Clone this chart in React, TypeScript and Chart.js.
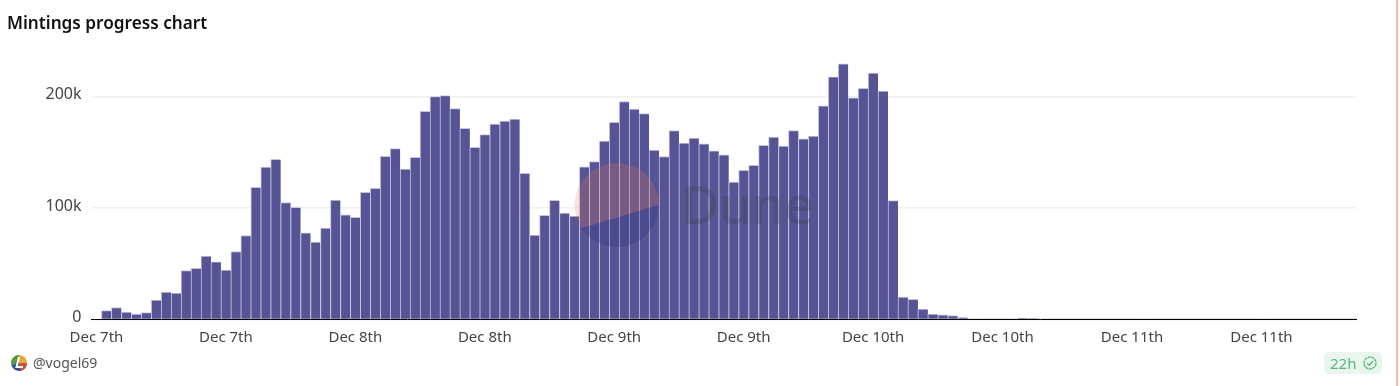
import React, { useEffect, useRef } from "react";
import { Chart, registerables } from "chart.js";

Chart.register(...registerables);

const FONT = '"Noto Sans", sans-serif';
const titleText = "Mintings progress chart";
const authorText = "@vogel69";
const ageText = "22h";
const seriesName = "Mintings";

const tickLabels = ["Dec 7th", "Dec 7th", "Dec 8th", "Dec 8th", "Dec 9th", "Dec 9th", "Dec 10th", "Dec 10th", "Dec 11th", "Dec 11th"];
const tickEvery = 13;

const yTicks = [0, 100000, 200000];
const yTickLabels = ["0", "100k", "200k"];

// Values in thousands, one per bar.
const mintingsK = [
  0, 8, 10.8, 6.6, 4.8, 6.3, 17.4, 24.5, 23.7, 44,
  46, 56.9, 51.8, 44.3, 61, 75.4, 118.6, 136.8, 143.7, 104.8,
  100.6, 77.8, 69.5, 82, 107.2, 94, 91.6, 114, 117.7, 146.4,
  153.3, 135, 145.5, 186.8, 200, 200.9, 189.2, 171.5, 154.4, 165.8,
  175.4, 178, 179.9, 131.2, 75.7, 93.4, 106.9, 95.5, 92.8, 136.9,
  141.7, 160, 176.9, 195.5, 188.9, 184.7, 152, 146.2, 169.4, 158.3,
  162.8, 157.7, 151.4, 147.7, 123.4, 133.9, 138.4, 156.2, 163.7, 155.6,
  169.4, 162.2, 164.6, 191.6, 217.7, 229.4, 198.8, 207.5, 221, 205,
  106.6, 20.1, 18, 9.3, 4.8, 4.2, 3.6, 1.8, 0.3, 0.2,
  0.2, 0.2, 0.3, 1.2, 0.8, 0.3, 0.2, 0.2, 0.1, 0.2,
  0.1, 0.1, 0.2, 0.1, 0.2, 0.3, 0.2, 0.1, 0.1, 0.1,
  0.1, 0.1, 0.2, 0.1, 0.1, 0.1, 0.1, 0.3, 0.2, 0.1,
  0.1, 0.1, 0.1, 0.1, 0.1, 0.1, 0.1,
];
const categories = mintingsK.map((_, i) => i);

export default function App() {
  const ref = useRef<HTMLCanvasElement | null>(null);

  useEffect(() => {
    document.body.style.margin = "0";
    document.body.style.background = "#fff";
    const chart = new Chart(ref.current!, {
      type: "bar",
      data: {
        labels: categories,
        datasets: [
          {
            label: seriesName,
            data: mintingsK.map((v) => v * 1000),
            backgroundColor: "#565494",
            borderColor: "#c4c3dc",
            borderWidth: { top: 1, left: 1, right: 0, bottom: 0 },
            borderSkipped: false,
            barPercentage: 1,
            categoryPercentage: 1,
          },
        ],
      },
      options: {
        animation: false,
        responsive: false,
        maintainAspectRatio: false,
        layout: { padding: { top: 52, left: 0, right: 44, bottom: 0 } },
        plugins: { legend: { display: false }, tooltip: { enabled: false }, title: { display: false } },
        scales: {
          x: {
            grid: { display: false, drawTicks: false },
            border: { display: true, color: "#000", width: 1, z: 1 },
            ticks: {
              autoSkip: false,
              maxRotation: 0,
              minRotation: 0,
              padding: 9.5,
              color: "#444",
              font: { family: FONT, size: 15 },
              callback: (_v, i) => (i % tickEvery === 0 ? tickLabels[i / tickEvery] ?? "" : ""),
            },
            afterFit: (s) => {
              s.height = 386 - 319.5;
            },
          },
          y: {
            min: 0,
            max: 240000,
            grid: { color: "#f0f0f2", lineWidth: 1.5, drawTicks: false },
            border: { display: false },
            afterBuildTicks: (s) => {
              s.ticks = yTicks.map((value) => ({ value }));
            },
            ticks: {
              padding: 10,
              labelOffset: -2,
              color: "#444",
              font: { family: FONT, size: 16 },
              callback: (v) => yTickLabels[yTicks.indexOf(Number(v))] ?? "",
            },
            afterFit: (s) => {
              s.width = 91.5;
            },
          },
        },
      },
    });
    return () => chart.destroy();
  }, []);

  return (
    <div style={{ position: "relative", width: 1400, height: 386, overflow: "hidden", background: "#fff" }}>
      <canvas ref={ref} width={1400} height={386} style={{ position: "absolute", left: 0, top: 0, width: 1400, height: 386 }} />
      <div style={{ position: "absolute", left: 7, top: 11, fontFamily: FONT, fontWeight: 600, fontSize: 17.2, lineHeight: "24px", color: "#111", whiteSpace: "nowrap" }}>
        {titleText}
      </div>
      {/* Dune watermark */}
      <svg width={1400} height={386} style={{ position: "absolute", left: 0, top: 0, pointerEvents: "none" }}>
        <path d="M 581.7 228.3 A 42 42 0 1 1 658.7 205 Z" fill="#eb7850" opacity={0.22} />
        <path d="M 581.7 228.3 L 658.7 205 A 42 42 0 0 1 581.7 228.3 Z" fill="#2b2a7a" opacity={0.25} />
        <text x={681} y={224} fontFamily={FONT} fontWeight={500} fontSize={52} fill="#333" opacity={0.2}>Dune</text>
      </svg>
      {/* Footer */}
      <svg width={20} height={20} style={{ position: "absolute", left: 9, top: 353 }} viewBox="0 0 20 20">
        <circle cx={10} cy={10} r={8} fill="#e6a93a" />
        <path d="M 10 10 L 10 2 A 8 8 0 0 0 2.5 12 Z" fill="#4f9a4c" />
        <path d="M 10 10 L 2.5 12 A 8 8 0 0 0 12 17.7 Z" fill="#2d4f9e" />
        <path d="M 10 10 L 12 17.7 A 8 8 0 0 0 18 10 Z" fill="#c9503c" />
        <path d="M 10 4 L 7.5 14 L 14 14" stroke="#fff" strokeWidth={2} fill="none" />
      </svg>
      <div style={{ position: "absolute", left: 33, top: 353, fontFamily: FONT, fontSize: 14, lineHeight: "20px", color: "#555", whiteSpace: "nowrap" }}>
        {authorText}
      </div>
      <div style={{ position: "absolute", left: 1324, top: 352, width: 58, height: 22, borderRadius: 5, background: "#e8f6ee" }}>
        <span style={{ position: "absolute", left: 6, top: 0, fontFamily: FONT, fontSize: 15, lineHeight: "22px", color: "#55b978" }}>{ageText}</span>
        <svg width={16} height={16} viewBox="0 0 16 16" style={{ position: "absolute", left: 38, top: 3 }}>
          <circle cx={8} cy={8} r={6} fill="none" stroke="#55b978" strokeWidth={1.3} strokeDasharray="3 0.6" />
          <path d="M 5.2 8.2 L 7.2 10.2 L 10.8 6.2" fill="none" stroke="#55b978" strokeWidth={1.3} />
        </svg>
      </div>
      <div style={{ position: "absolute", left: 1396, top: 0, width: 1.5, height: 386, background: "#fbb9a8" }} />
    </div>
  );
}
